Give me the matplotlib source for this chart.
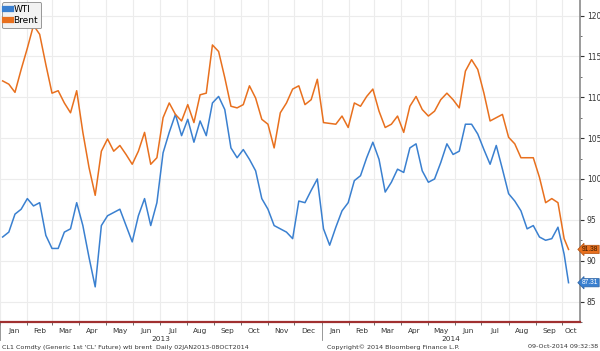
import numpy as np
import pandas as pd
import matplotlib
matplotlib.use("Agg")
import matplotlib.pyplot as plt
import matplotlib.transforms as mtransforms

plt.rcParams['font.family'] = ['DejaVu Sans']

# weekly readings (Fridays from 04JAN2013) plus the last print on 08OCT2014
start_date = "2013-01-04"
last_date = "2014-10-08"

brent = [112.0, 111.6, 110.6, 113.4, 116.0, 118.8, 117.7, 114.0, 110.5, 110.8, 109.3, 108.1,
         110.8, 105.7, 101.4, 98.0, 103.4, 104.9, 103.4, 104.1, 103.0, 101.8, 103.4, 105.7,
         101.8, 102.6, 107.5, 109.3, 107.9, 107.1, 109.1, 106.9, 110.3, 110.5, 116.4, 115.6,
         112.4, 108.9, 108.7, 109.1, 111.4, 109.9, 107.3, 106.7, 103.8, 108.1, 109.3, 111.0,
         111.4, 109.1, 109.7, 112.2, 106.9, 106.8, 106.7, 107.7, 106.3, 109.3, 108.9, 110.1,
         111.0, 108.3, 106.3, 106.7, 107.7, 105.7, 108.9, 110.1, 108.5, 107.7, 108.3,
         109.7, 110.5, 109.7, 108.7, 113.2, 114.6, 113.4, 110.5, 107.1, 107.5, 107.9, 105.1,
         104.3, 102.6, 102.6, 102.6, 100.2, 97.1, 97.6, 97.1, 92.7, 91.38]

wti = [92.9, 93.5, 95.7, 96.3, 97.6, 96.7, 97.1, 93.1, 91.5, 91.5, 93.5, 93.9,
       97.1, 94.3, 90.4, 86.8, 94.3, 95.5, 95.9, 96.3, 94.3, 92.3, 95.5, 97.6,
       94.3, 97.1, 103.2, 105.7, 107.9, 105.3, 107.3, 104.5, 107.1, 105.3, 109.3, 110.1,
       108.5, 103.8, 102.6, 103.6, 102.4, 101.0, 97.6, 96.3, 94.3, 93.9, 93.5, 92.7,
       97.3, 97.1, 98.6, 100.0, 93.9, 91.9, 94.1, 96.1, 97.1, 99.8, 100.4, 102.6,
       104.5, 102.4, 98.4, 99.6, 101.2, 100.8, 103.8, 104.3, 101.0, 99.6, 100.0,
       102.0, 104.3, 103.0, 103.4, 106.7, 106.7, 105.5, 103.6, 101.8, 104.1, 101.2, 98.2,
       97.3, 96.1, 93.9, 94.3, 92.9, 92.5, 92.7, 94.1, 90.8, 87.31]

y_ticks = [85, 90, 95, 100, 105, 110, 115, 120]
footer_left = "CL1 Comdty (Generic 1st 'CL' Future) wti brent  Daily 02JAN2013-08OCT2014"
footer_mid = "Copyright\u00a9 2014 Bloomberg Finance L.P."
footer_right = "09-Oct-2014 09:32:38"

WTI_COLOR = '#3a80d0'
BRENT_COLOR = '#e8701e'

dates = list(pd.date_range(start_date, periods=len(wti) - 1, freq="7D")) + [pd.Timestamp(last_date)]

fig = plt.figure(figsize=(6, 3.51), dpi=100)
ax = fig.add_axes([0.0, 1 - 322 / 351, 580 / 600, 322 / 351])

ax.plot(dates, wti, color=WTI_COLOR, lw=1.1, label='WTI')
ax.plot(dates, brent, color=BRENT_COLOR, lw=1.1, label='Brent')

x0 = pd.Timestamp("2013-01-01")
x1 = pd.Timestamp("2014-10-21")
ax.set_xlim(x0, x1)
ax.set_ylim(83.8, 121.9)

# y axis on the right
ax.yaxis.tick_right()
ax.set_yticks(y_ticks)
ax.set_yticks(np.arange(82.5, 122.5, 2.5), minor=True)
ax.tick_params(axis='y', which='major', length=3, width=0.8, color='#333333',
               labelsize=5.5, labelcolor='#333333', pad=2)
ax.tick_params(axis='y', which='minor', length=1.5, width=0.6, color='#555555')

# months on the bottom
month_starts = pd.date_range("2013-01-01", "2014-10-01", freq="MS")
ax.set_xticks(month_starts)
ax.set_xticklabels([])
ax.tick_params(axis='x', which='major', length=2.5, width=0.6, color='#555555')

ax.grid(True, which='major', color='#ececec', lw=0.8)
ax.set_axisbelow(True)

for s in ['top', 'left']:
    ax.spines[s].set_visible(False)
ax.spines['right'].set_color('#8a8a8a')
ax.spines['right'].set_linewidth(1.2)
ax.spines['bottom'].set_color('#a03030')
ax.spines['bottom'].set_linewidth(1.6)

trans = mtransforms.blended_transform_factory(ax.transData, ax.transAxes)
edges = list(month_starts) + [x1]
for a, b in zip(edges[:-1], edges[1:]):
    mid = a + (b - a) / 2
    ax.text(mid, -0.027, a.strftime("%b"), transform=trans, ha='center', va='center',
            fontsize=5.3, color='#333333')

for yr_start, yr_end, label in [(pd.Timestamp("2013-01-01"), pd.Timestamp("2014-01-01"), "2013"),
                                (pd.Timestamp("2014-01-01"), x1, "2014")]:
    mid = yr_start + (yr_end - yr_start) / 2
    ax.text(mid, -0.054, label, transform=trans, ha='center', va='center',
            fontsize=5.3, color='#333333')
    ax.plot([yr_start, yr_start], [0, -0.055], transform=trans, color='#888888',
            lw=0.6, clip_on=False)

# last value tags on the right axis
tag_trans = mtransforms.blended_transform_factory(fig.transFigure, ax.transData)
ax.text(598.5 / 600, brent[-1], f"{brent[-1]:.2f}", transform=tag_trans, ha='right', va='center',
        fontsize=4.8, family='Liberation Sans', color='#3a1a00', clip_on=False,
        bbox=dict(boxstyle='larrow,pad=0.1', fc=BRENT_COLOR, ec='#b05010', lw=0.5))
ax.text(598.5 / 600, wti[-1], f"{wti[-1]:.2f}", transform=tag_trans, ha='right', va='center',
        fontsize=4.8, family='Liberation Sans', color='white', clip_on=False,
        bbox=dict(boxstyle='larrow,pad=0.1', fc=WTI_COLOR, ec='#2a60a0', lw=0.5))

leg = ax.legend(loc='upper left', fontsize=6.5, frameon=True, fancybox=True,
                handlelength=0.6, handleheight=0.6, handletextpad=0.3,
                borderpad=0.35, labelspacing=0.2, borderaxespad=0.25)
leg.get_frame().set_facecolor('#f2f2f2')
leg.get_frame().set_edgecolor('#888888')
leg.get_frame().set_linewidth(0.6)
leg.get_frame().set_alpha(1)
for h in leg.legend_handles:
    h.set_linewidth(4.5)

fig.text(2 / 600, 1 - 347 / 351, footer_left, fontsize=4.6, color='#333333', ha='left', va='center')
fig.text(327 / 600, 1 - 347 / 351, footer_mid, fontsize=4.6, color='#333333', ha='left', va='center')
fig.text(598 / 600, 1 - 347 / 351, footer_right, fontsize=4.6, color='#333333', ha='right', va='center')

fig.savefig("out.png", dpi=100)
